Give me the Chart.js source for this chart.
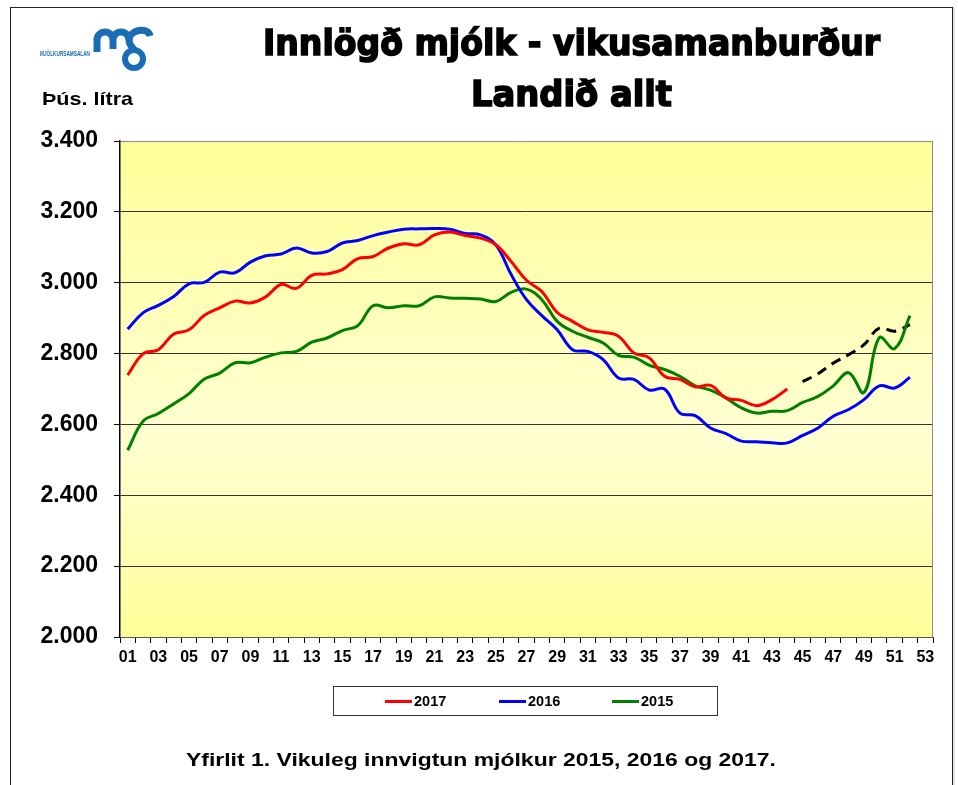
<!DOCTYPE html>
<html lang="is">
<head>
<meta charset="utf-8">
<script src="https://cdn.jsdelivr.net/npm/chart.js@4.4.1/dist/chart.umd.min.js"></script>
<style>
  html, body { margin: 0; padding: 0; background: #fff; }
  body { width: 958px; height: 785px; position: relative; overflow: hidden; font-family: 'Liberation Sans', Arial, sans-serif; }
  #frame { position: absolute; left: 10px; top: 7px; width: 941px; height: 820px; border: 1px solid #222; box-shadow: 2px 0 0 #e4e4e4; }
  #chart { position: absolute; left: 0; top: 0; }
  #overlay { position: absolute; left: 0; top: 0; }
  #legend { position: absolute; left: 333px; top: 686px; width: 385px; height: 30px; border: 1px solid #333; box-sizing: border-box; background: #fff; }
  .item { position: absolute; top: 0; height: 28px; display: flex; align-items: center; font: bold 14.5px 'Liberation Sans', Arial, sans-serif; color: #000; }
  .item i { display: inline-block; width: 27px; height: 3px; margin-right: 2px; }
</style>
</head>
<body>
<div id="frame"></div>
<canvas id="chart" width="958" height="700"></canvas>

<svg id="overlay" width="958" height="785" xmlns="http://www.w3.org/2000/svg">
  <!-- merki -->
  <g fill="none" stroke="#1a6db5" stroke-width="7" stroke-linecap="butt">
    <path d="M97 52 V40 A8 8 0 0 1 113 40 V49 M113 40 A8 8 0 0 1 129 40"/>
    <path d="M129 40 C129 30 148 26 150 36"/>
    <path d="M129 40 C129 46 134 48 134 50"/>
  </g>
  <circle cx="134" cy="59" r="9" fill="none" stroke="#1a6db5" stroke-width="6"/>
  <text x="40" y="56" font-family="Liberation Sans" font-weight="bold" font-size="7" fill="#1a6db5" textLength="50" lengthAdjust="spacingAndGlyphs">MJÖLKURSAMSALAN</text>

  <text x="263" y="55" font-family="DejaVu Sans" font-weight="bold" font-size="35" stroke="#000" stroke-width="1.6" textLength="617" lengthAdjust="spacingAndGlyphs">Innlögð mjólk - vikusamanburður</text>
  <text x="471" y="106" font-family="DejaVu Sans" font-weight="bold" font-size="35" stroke="#000" stroke-width="1.6" textLength="201" lengthAdjust="spacingAndGlyphs">Landið allt</text>

  <text x="42" y="105" font-family="Liberation Sans" font-weight="bold" font-size="19" textLength="91" lengthAdjust="spacingAndGlyphs">Þús. lítra</text>

  <text x="186" y="766" font-family="Liberation Sans" font-weight="bold" font-size="18" textLength="590" lengthAdjust="spacingAndGlyphs">Yfirlit 1. Vikuleg innvigtun mjólkur 2015, 2016 og 2017.</text>
</svg>

<div id="legend"></div>

<script>
// vikur
const weeks = ['01','02','03','04','05','06','07','08','09','10','11','12','13','14','15','16','17','18','19','20',
  '21','22','23','24','25','26','27','28','29','30','31','32','33','34','35','36','37','38','39','40',
  '41','42','43','44','45','46','47','48','49','50','51','52','53'];

// innvigtun, þús. lítra (lesið af myndinni)
const v2017 = [2739, 2799, 2811, 2855, 2867, 2908, 2929, 2948, 2943, 2960, 2995, 2984, 3021, 3025, 3037, 3068,
  3074, 3098, 3110, 3107, 3135, 3143, 3133, 3126, 3107, 3060, 3007, 2975, 2916, 2891, 2867, 2860, 2849, 2802,
  2788, 2736, 2727, 2706, 2710, 2675, 2668, 2653, 2670, 2700];

const v2016 = [2869, 2915, 2936, 2961, 2997, 3001, 3030, 3028, 3058, 3076, 3081, 3098, 3084, 3088, 3112, 3119,
  3133, 3143, 3151, 3152, 3153, 3151, 3139, 3135, 3107, 3023, 2952, 2907, 2867, 2811, 2806, 2783, 2731, 2727,
  2697, 2700, 2632, 2625, 2590, 2574, 2553, 2551, 2548, 2548, 2569, 2590, 2623, 2642, 2670, 2709, 2703, 2733];

const v2015 = [2527, 2609, 2631, 2658, 2687, 2728, 2745, 2774, 2774, 2790, 2802, 2806, 2832, 2844, 2865, 2879,
  2935, 2929, 2935, 2935, 2960, 2957, 2956, 2954, 2947, 2973, 2982, 2952, 2891, 2863, 2846, 2830, 2795, 2790,
  2767, 2755, 2736, 2709, 2697, 2675, 2647, 2632, 2637, 2639, 2662, 2679, 2709, 2746, 2690, 2845, 2814, 2907];

// spá 2017, vikur 45-52 (brotin lína)
const spaStart = 45;
const spa2017 = [2721, 2743, 2773, 2797, 2825, 2872, 2863, 2882];

const yTicks = [2000, 2200, 2400, 2600, 2800, 3000, 3200, 3400];

const series = [
  { label: '2017', data: v2017, color: '#ff0000' },
  { label: '2016', data: v2016, color: '#0000ff' },
  { label: '2015', data: v2015, color: '#008000' }
];

const datasets = series.map(s => ({
  label: s.label,
  data: s.data,
  borderColor: s.color,
  backgroundColor: s.color,
  borderWidth: 3,
  pointRadius: 0,
  tension: 0.4,
  fill: false
}));

datasets.push({
  label: 'spá',
  data: Array(spaStart - 1).fill(null).concat(spa2017),
  borderColor: '#000',
  borderWidth: 3,
  borderDash: [10, 7],
  pointRadius: 0,
  tension: 0.4,
  fill: false
});

// bakgrunnur teiknisvæðis
const plotBg = {
  id: 'plotBg',
  beforeDraw(chart) {
    const { ctx, chartArea: a } = chart;
    const g = ctx.createLinearGradient(0, a.top, 0, a.bottom);
    g.addColorStop(0, '#ffff99');
    g.addColorStop(0.6, '#ffffd2');
    g.addColorStop(1, '#ffff99');
    ctx.save();
    ctx.fillStyle = g;
    ctx.fillRect(a.left, a.top, a.right - a.left, a.bottom - a.top);
    ctx.restore();
  },
  beforeDatasetsDraw(chart) {
    const { ctx, chartArea: a } = chart;
    ctx.save();
    ctx.strokeStyle = '#8c8c8c';
    ctx.lineWidth = 1;
    ctx.beginPath();
    ctx.moveTo(a.right - 0.5, a.top);
    ctx.lineTo(a.right - 0.5, a.bottom);
    ctx.stroke();
    ctx.restore();
  }
};

new Chart(document.getElementById('chart'), {
  type: 'line',
  data: { labels: weeks, datasets: datasets },
  plugins: [plotBg],
  options: {
    responsive: false,
    animation: false,
    devicePixelRatio: 1,
    layout: { padding: { left: 0, top: 141, right: 25, bottom: 23 } },
    plugins: {
      legend: { display: false },
      tooltip: { enabled: false }
    },
    scales: {
      x: {
        type: 'category',
        offset: true,
        afterFit: s => { s.height = 40; },
        grid: { offset: true, drawOnChartArea: false, drawTicks: true, tickLength: 6, tickColor: '#000' },
        border: { display: true, color: '#555', width: 1 },
        ticks: {
          autoSkip: false,
          maxRotation: 0,
          padding: 5,
          color: '#000',
          font: { family: 'Liberation Sans', weight: 'bold', size: 16 },
          callback: (v, i) => (i % 2 === 0 ? weeks[i] : '')
        }
      },
      y: {
        min: yTicks[0],
        max: yTicks[yTicks.length - 1],
        afterFit: s => { s.width = 120; },
        afterBuildTicks: s => { s.ticks = yTicks.map(v => ({ value: v })); },
        grid: {
          color: c => (c.tick && c.tick.value === 3400 ? '#8c8c8c' : '#333'),
          lineWidth: 1,
          drawTicks: true,
          tickLength: 6,
          tickColor: '#000'
        },
        border: { display: true, color: '#000', width: 1.5 },
        ticks: {
          padding: 16,
          color: '#000',
          font: { family: 'Liberation Sans', weight: 'bold', size: 23 },
          callback: v => (v / 1000).toFixed(3)
        }
      }
    }
  }
});

// skýringar
const legend = document.getElementById('legend');
const legendX = [51, 165, 278];
series.forEach((s, i) => {
  const el = document.createElement('div');
  el.className = 'item';
  el.style.left = legendX[i] + 'px';
  el.innerHTML = '<i style="background:' + s.color + '"></i>' + s.label;
  legend.appendChild(el);
});
</script>
</body>
</html>
